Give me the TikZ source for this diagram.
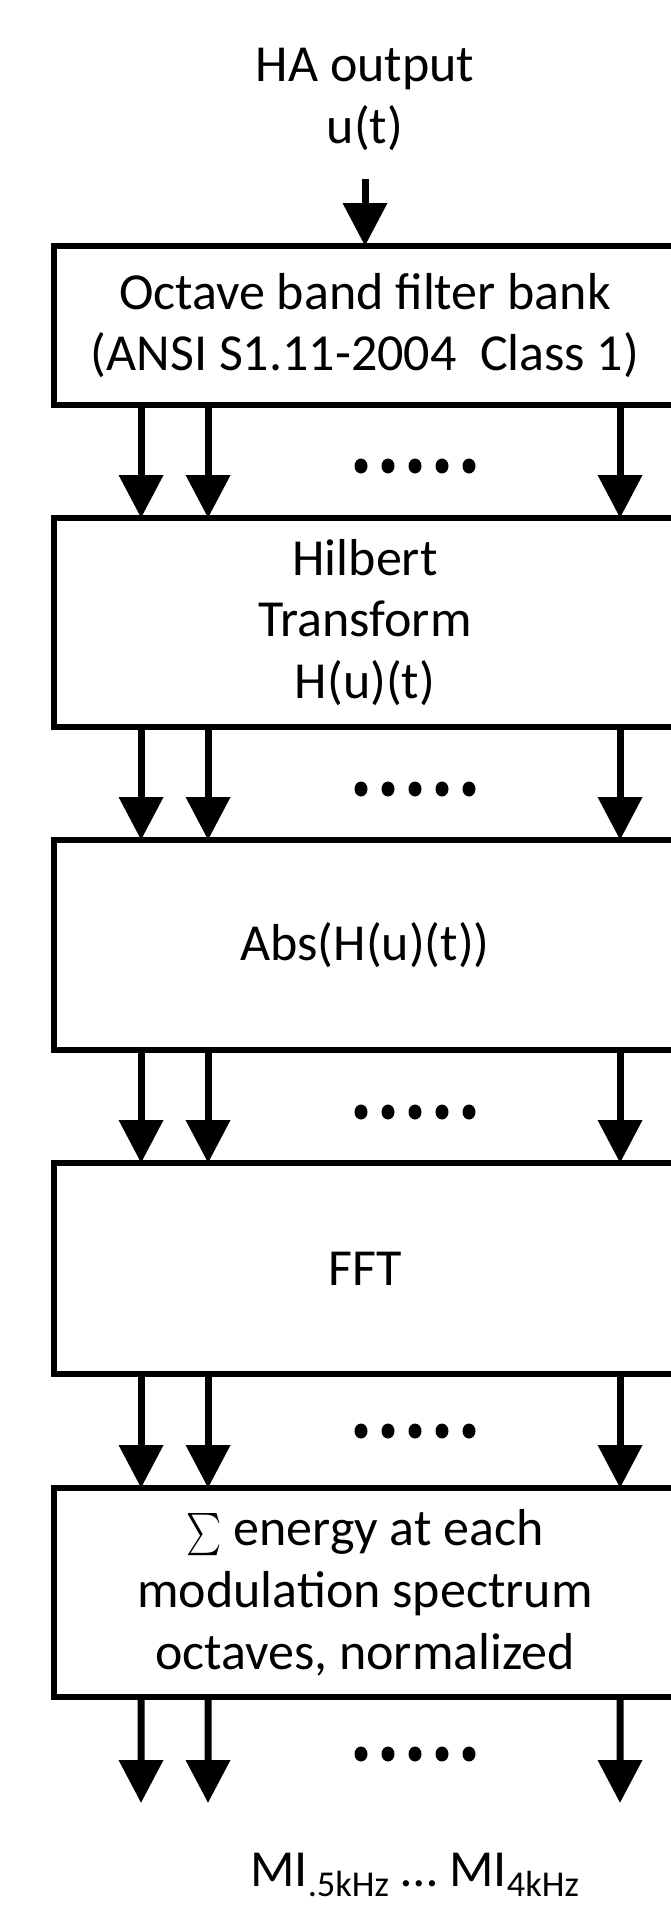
\documentclass[tikz,border=0pt]{standalone}
\usepackage{fontspec}
\setmainfont{Carlito}
\usetikzlibrary{arrows.meta}
\tikzset{
  txt/.style={align=center, inner sep=0pt, font=\fontsize{29.6}{35.2}\selectfont},
  blockbox/.style={txt, draw, line width=0.12cm, outer sep=0pt, minimum width=12.44cm},
  flow/.style={-{Triangle[length=0.86cm,width=0.86cm]}, line width=0.14cm}
}
\newcommand{\bigsum}{\scalebox{1.9}[2.4]{\fontsize{10}{12}\selectfont$\sum$}}
\begin{document}
\begin{tikzpicture}[line cap=butt, line join=miter, x=0.02cm, y=-0.02cm]
      \useasboundingbox (0,0) rectangle (671,1911);
      \clip (0,0) rectangle (671,1911);
      \node[txt] (input) at (365,99) {HA output\\u(t)};
      \node[blockbox, minimum height=3.18cm] (filt) at (365,325.5) {Octave band filter bank\\(ANSI S1.11-2004~ Class 1)};
      \node[blockbox, minimum height=4.18cm] (hilb) at (365,622.5) {Hilbert\\Transform\\H(u)(t)};
      \node[blockbox, minimum height=4.2cm] (absv) at (365,945) {Abs(H(u)(t))};
      \node[blockbox, minimum height=4.22cm] (fft) at (365,1268.5) {FFT};
      \node[blockbox, minimum height=4.18cm] (sumb) at (365,1592.5) {\bigsum{} energy at each\\modulation spectrum\\octaves, normalized};
      \coordinate (ends) at (54,1803);
      \node[txt] (mi) at (415,1875) {MI\textsubscript{.5kHz} … MI\textsubscript{4kHz}};
      \draw[flow] ([yshift=-0.57cm]input.south) -- (filt.north);
      \foreach \a/\b in {filt/hilb,hilb/absv,absv/fft,fft/sumb}
      \foreach \dx in {87,154,566}
      \draw[flow] ([xshift=\dx*0.02cm]\a.south west) -- ([xshift=\dx*0.02cm]\b.north west);
      \foreach \dx in {87,154,566}
      \draw[flow] ([xshift=\dx*0.02cm]sumb.south west) -- ([xshift=\dx*0.02cm]ends);
      \foreach \y in {466,789,1112,1431,1754}
      \foreach \x in {361,388,415,442,469}
      \fill (\x,\y) ellipse (6.5 and 7.5);
\end{tikzpicture}
\end{document}
